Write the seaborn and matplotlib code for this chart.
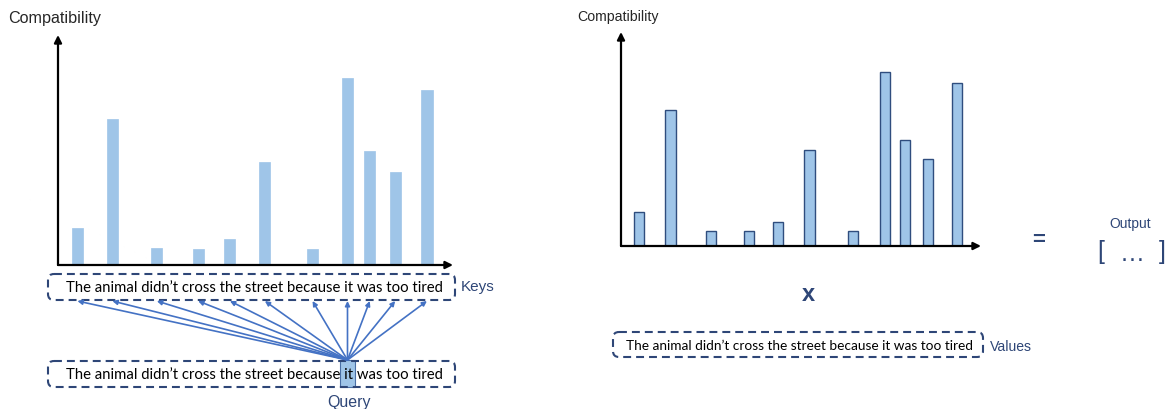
import matplotlib
matplotlib.use("Agg")
import matplotlib.pyplot as plt
import seaborn as sns
from matplotlib.patches import FancyBboxPatch, Rectangle

# data
sentence = "The animal didn’t cross the street because it was too tired"
words = sentence.split(" ")
query_word = "it"
# compatibility of the query "it" with each key word
scores = [1.6, 6.35, 0.72, 0.7, 1.13, 4.5, 0.7, 8.13, 4.95, 4.05, 7.62]

# bar position = character centre of each word in the sentence
word_pos = []
start = 0
for w in words:
    word_pos.append(start + len(w) / 2)
    start += len(w) + 1

bar_color = "#9fc5e8"
navy = "#2e4677"
arrow_blue = "#4472c4"

sns.set_style("white")
plt.rcParams["font.family"] = ["Liberation Sans", "DejaVu Sans"]

fig = plt.figure(figsize=(11.66, 4.10), dpi=100)

# overlay in pixel coordinates for the text / boxes / arrows
ax0 = fig.add_axes([0, 0, 1, 1])
ax0.set_xlim(0, 1166)
ax0.set_ylim(410, 0)
ax0.axis("off")

ax1 = fig.add_axes([58 / 1166, 144 / 410, 395 / 1166, 230 / 410])
ax2 = fig.add_axes([621 / 1166, 163 / 410, 360 / 1166, 214 / 410])

for ax, edge in [(ax1, None), (ax2, "#2f4d7e")]:
    sns.barplot(x=word_pos, y=scores, native_scale=True, orient="v", width=0.5,
                color=bar_color, saturation=1, ax=ax,
                edgecolor=edge if edge else bar_color,
                linewidth=1.0 if edge else 0.5)
    ax.set_xlim(-1.55, 60.6)
    ax.set_ylim(0, 10)
    ax.axis("off")
    for end in [(0, 1), (1, 0)]:
        ax.annotate("", xy=end, xytext=(0, 0), xycoords="axes fraction",
                    arrowprops=dict(arrowstyle="-|>", lw=1.6, color="black",
                                    mutation_scale=11, shrinkA=0, shrinkB=0),
                    zorder=5, annotation_clip=False)

ax0.text(55, 18, "Compatibility", fontsize=11.6, ha="center", va="center")
ax0.text(618, 17, "Compatibility", fontsize=10.2, ha="center", va="center")


def fit_size(txt, width_px, family="Lato"):
    t = ax0.text(0, 0, txt, fontsize=10, family=family)
    fig.canvas.draw()
    w = t.get_window_extent().width
    t.remove()
    return 10 * width_px / w


def dashed_box(x0, y0, x1, y1):
    box = FancyBboxPatch((x0, y0), x1 - x0, y1 - y0,
                         boxstyle="round,pad=0,rounding_size=6",
                         fill=False, edgecolor=navy, lw=1.5,
                         linestyle=(0, (3.8, 2.4)))
    ax0.add_patch(box)


big = fit_size(sentence, 378)
small = fit_size(sentence, 344)

# keys
dashed_box(48, 275, 455, 301)
ax0.text(254, 288, sentence, fontsize=big, family="Lato", color="black",
         ha="center", va="center")
ax0.text(461, 287, "Keys", fontsize=11, color=navy, ha="left", va="center")

# query
qx = ax1.transData.transform((word_pos[words.index(query_word)], 0))[0]
ax0.add_patch(Rectangle((qx - 7.5, 361), 15, 27, facecolor=bar_color,
                        edgecolor="#4a6fa5", lw=0.8, zorder=1))
dashed_box(48, 362, 455, 388)
ax0.text(254, 375, sentence, fontsize=big, family="Lato", color="black",
         ha="center", va="center", zorder=2)
ax0.text(qx + 2, 403, "Query", fontsize=11.5, color=navy, ha="center", va="center")

for p in word_pos:
    kx = ax1.transData.transform((p, 0))[0]
    ax0.annotate("", xy=(kx, 302), xytext=(qx, 361),
                 arrowprops=dict(arrowstyle="-|>", lw=1.2, color=arrow_blue,
                                 mutation_scale=7, shrinkA=0, shrinkB=0))

# values
dashed_box(613, 333, 983, 358)
ax0.text(800, 346, sentence, fontsize=small, family="Lato", color="black",
         ha="center", va="center")
ax0.text(990, 347, "Values", fontsize=10.1, color=navy, ha="left", va="center")

ax0.text(808, 295, "x", fontsize=17, fontweight="bold", color=navy,
         ha="center", va="center")
ax0.text(1039, 241, "=", fontsize=16, fontweight="bold", color=navy,
         ha="center", va="center")
ax0.text(1130, 224, "Output", fontsize=10, color=navy, ha="center", va="center")
ax0.text(1101, 252, "[", fontsize=18, color=navy, ha="center", va="center")
ax0.text(1162, 252, "]", fontsize=18, color=navy, ha="center", va="center")
ax0.text(1132, 254, "…", fontsize=18, color=navy, ha="center", va="center")

fig.savefig("out.png", dpi=100)
